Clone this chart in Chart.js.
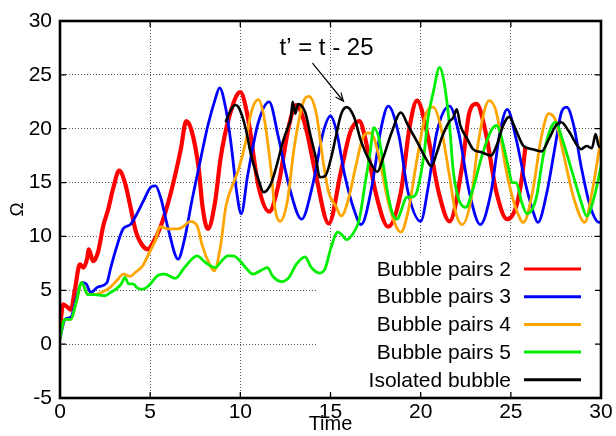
<!DOCTYPE html>
<html>
<head>
<meta charset="utf-8">
<script src="https://cdn.jsdelivr.net/npm/chart.js@4/dist/chart.umd.min.js"></script>
<style>
  html, body { margin: 0; padding: 0; background: #fff; }
  #wrap { width: 616px; height: 436px; }
</style>
</head>
<body>
<div id="wrap"><canvas id="c" width="616" height="436"></canvas></div>
<script>
// ---------------- data ----------------
const seriesLabels = ["Bubble pairs 2", "Bubble pairs 3", "Bubble pairs 4", "Bubble pairs 5", "Isolated bubble"];
const xTicks = [0, 5, 10, 15, 20, 25, 30];
const yTicks = [-5, 0, 5, 10, 15, 20, 25, 30];

const tPairs2 = [0, 0.17, 0.44, 0.6, 0.83, 1.1, 1.3, 1.5, 1.6, 1.83, 2.1, 2.4, 2.67, 2.94, 3.28, 3.6, 3.9, 4.2, 4.6, 4.9, 5.05, 5.6, 6.2, 6.7, 7.0, 7.3, 7.7, 7.9, 8.2, 8.6, 8.9, 9.4, 10.0, 10.4, 11.0, 11.6, 12.1, 12.7, 13.1, 13.6, 14.2, 14.9, 15.6, 16.1, 16.6, 16.9, 17.5, 18.2, 18.9, 19.4, 19.8, 20.4, 21.0, 21.6, 22.3, 22.7, 23.1, 23.6, 24.2, 24.8, 25.3, 25.6, 25.8];
const vPairs2 = [1.5, 3.7, 3.4, 3.2, 5.1, 7.4, 7.1, 7.9, 8.8, 7.7, 8.5, 11.0, 12.5, 14.4, 16.1, 15.0, 12.8, 10.5, 9.1, 8.8, 9.1, 11.0, 14.4, 18.1, 20.7, 19.8, 16.2, 12.8, 10.7, 13.2, 17.2, 21.2, 23.4, 21.2, 14.7, 12.3, 14.7, 20.3, 22.2, 20.3, 15.6, 11.2, 16.2, 19.7, 20.7, 19.3, 14.1, 10.9, 14.1, 20.3, 22.6, 19.3, 14.1, 11.4, 16.5, 21.5, 22.3, 19.7, 14.1, 11.6, 12.8, 15.3, 18.2];

const tPairs3 = [0, 0.28, 0.6, 0.9, 1.2, 1.45, 1.7, 2.1, 2.6, 2.8, 3.1, 3.5, 3.9, 4.2, 4.6, 5.05, 5.3, 5.6, 6.0, 6.55, 6.9, 7.3, 7.8, 8.2, 8.6, 8.85, 9.2, 9.5, 9.8, 10.05, 10.4, 11.0, 11.6, 12.1, 12.7, 13.4, 14.0, 14.6, 15.0, 15.3, 15.8, 16.3, 16.7, 17.3, 17.8, 18.2, 18.8, 19.3, 20.0, 20.4, 20.9, 21.6, 22.1, 22.7, 23.3, 23.9, 24.4, 24.8, 25.3, 25.8, 26.2, 26.5, 27.0, 27.5, 27.8, 28.1, 28.5, 28.9, 29.4, 29.9, 30];
const vPairs3 = [0.5, 2.3, 2.5, 4.2, 5.7, 5.6, 4.8, 5.3, 5.7, 7.0, 8.8, 10.7, 11.1, 11.9, 13.2, 14.6, 14.7, 13.5, 10.7, 7.9, 9.7, 13.2, 17.2, 20.3, 22.7, 23.8, 21.8, 18.4, 14.1, 12.1, 15.6, 20.6, 22.5, 19.3, 14.7, 11.6, 14.7, 19.7, 21.2, 20.0, 15.6, 12.5, 11.1, 14.7, 20.0, 22.1, 19.3, 14.1, 11.4, 14.4, 19.7, 22.1, 19.7, 14.1, 11.1, 14.1, 19.7, 21.8, 19.0, 15.0, 12.5, 11.3, 14.1, 18.8, 21.5, 22.0, 20.2, 16.5, 12.8, 11.3, 11.3];

const tPairs4 = [0, 0.17, 0.33, 0.6, 0.9, 1.2, 1.55, 1.9, 2.3, 2.8, 3.2, 3.5, 3.9, 4.2, 4.6, 4.9, 5.3, 5.55, 6.0, 6.55, 6.9, 7.2, 7.6, 7.9, 8.3, 8.55, 8.9, 9.2, 9.7, 9.9, 10.3, 10.6, 11.0, 11.3, 11.7, 11.9, 12.2, 12.6, 13.0, 13.5, 13.8, 14.2, 14.6, 14.9, 15.3, 15.6, 16.0, 16.4, 16.8, 17.1, 17.4, 17.8, 18.2, 18.9, 19.3, 19.8, 20.3, 20.7, 21.1, 21.6, 21.9, 22.3, 22.8, 23.2, 23.8, 24.2, 24.7, 25.0, 25.3, 25.7, 26.2, 26.7, 27.1, 27.5, 27.9, 28.5, 29.1, 29.5, 29.9, 30];
const vPairs4 = [0.5, 2.0, 2.3, 2.3, 3.9, 5.7, 4.6, 4.6, 4.8, 5.3, 6.0, 6.5, 6.3, 6.7, 7.3, 8.3, 9.7, 10.9, 10.7, 10.7, 11.0, 11.4, 11.0, 9.1, 7.4, 6.8, 9.1, 12.8, 15.3, 16.2, 18.8, 21.5, 22.7, 21.2, 16.2, 12.8, 11.4, 13.2, 18.4, 22.5, 23.0, 21.5, 16.9, 14.1, 12.8, 11.9, 13.5, 16.5, 19.2, 19.6, 19.2, 16.5, 13.2, 10.4, 12.3, 17.2, 21.4, 22.0, 20.3, 15.6, 12.5, 11.1, 13.5, 18.8, 22.6, 21.5, 16.5, 14.2, 12.5, 11.3, 14.1, 19.3, 21.4, 20.7, 17.8, 13.5, 11.3, 14.1, 18.1, 19.3];

const tPairs5 = [0, 0.17, 0.33, 0.6, 0.9, 1.2, 1.55, 1.9, 2.5, 2.8, 3.1, 3.4, 3.6, 3.8, 4.05, 4.3, 4.6, 4.9, 5.45, 5.8, 6.4, 6.9, 7.6, 8.05, 8.6, 8.95, 9.3, 9.6, 10.05, 10.3, 10.7, 11.1, 11.5, 11.8, 12.3, 12.7, 13.1, 13.6, 13.9, 14.4, 14.7, 15.0, 15.4, 15.6, 15.9, 16.3, 16.6, 16.9, 17.2, 17.4, 17.7, 18.1, 18.4, 18.7, 18.9, 19.2, 19.6, 19.8, 20.2, 20.4, 20.7, 21.05, 21.3, 21.6, 21.8, 22.1, 22.5, 22.9, 23.4, 23.9, 24.2, 24.4, 24.8, 25.1, 25.3, 25.6, 25.9, 26.4, 26.8, 27.2, 27.5, 27.8, 28.4, 28.9, 29.2, 29.6, 30];
const vPairs5 = [0.5, 2.0, 2.3, 2.3, 3.9, 5.7, 4.6, 4.6, 4.5, 4.8, 5.1, 5.6, 6.2, 5.6, 5.6, 5.2, 5.1, 5.4, 6.4, 6.5, 6.1, 7.1, 8.2, 7.6, 7.1, 7.7, 8.2, 8.2, 7.6, 7.1, 6.5, 6.8, 7.1, 6.3, 5.8, 6.2, 7.4, 8.1, 7.2, 6.6, 7.0, 8.8, 10.4, 10.2, 9.7, 10.4, 11.6, 14.7, 17.8, 20.1, 19.0, 14.7, 12.3, 11.6, 12.3, 13.6, 13.7, 14.2, 17.8, 20.9, 23.4, 25.7, 24.3, 20.3, 16.2, 13.5, 12.7, 14.4, 17.5, 19.8, 20.3, 19.7, 16.9, 15.0, 15.0, 13.2, 12.1, 13.5, 17.5, 20.0, 20.6, 19.3, 16.0, 13.2, 11.9, 13.5, 16.5];

const tIsolated = [9.2, 9.5, 9.7, 9.9, 10.3, 10.6, 11.0, 11.3, 11.7, 12.0, 12.4, 12.7, 12.8, 12.9, 13.05, 13.2, 13.6, 13.9, 14.2, 14.4, 14.7, 15.05, 15.3, 15.6, 15.9, 16.3, 16.7, 17.2, 17.6, 17.9, 18.4, 18.9, 19.3, 19.8, 20.3, 20.6, 20.9, 21.2, 21.6, 21.8, 22.0, 22.2, 22.6, 22.9, 23.4, 23.9, 24.2, 24.6, 24.9, 25.3, 25.7, 26.2, 26.7, 27.1, 27.5, 27.8, 28.2, 28.7, 28.9, 29.2, 29.5, 29.7, 29.9, 30];
const vIsolated = [20.7, 21.8, 22.2, 22.0, 20.0, 17.5, 15.3, 14.1, 14.9, 16.5, 19.0, 20.4, 20.9, 22.5, 21.4, 22.3, 21.5, 19.3, 17.2, 15.5, 15.6, 17.4, 19.3, 21.4, 22.0, 21.1, 18.8, 16.9, 16.0, 17.2, 19.7, 21.5, 20.3, 18.8, 17.2, 16.5, 17.8, 19.3, 20.7, 21.0, 21.8, 20.3, 19.0, 18.1, 17.8, 17.5, 18.4, 20.4, 21.1, 19.8, 18.4, 18.1, 17.9, 19.0, 20.3, 20.6, 19.8, 18.4, 18.1, 18.4, 18.2, 19.5, 18.3, 18.4];

// annotation (in data units)
const noteText = "t\u2019 = t - 25";
const noteAt = { x: 14.78, y: 27.5 };
const arrowFrom = { x: 14.0, y: 26.1 };
const arrowTo = { x: 15.72, y: 22.55 };

// ---------------- chart ----------------
const FONT = "'Liberation Sans', Arial, Helvetica, sans-serif";
function pts(t, v) { return t.map((x, i) => ({ x: x, y: v[i] })); }

const colors = ["#ff0000", "#0000ff", "#ffa500", "#00ee00", "#000000"];
const widths = [4.2, 2.8, 2.8, 2.8, 2.6];
const allT = [tPairs2, tPairs3, tPairs4, tPairs5, tIsolated];
const allV = [vPairs2, vPairs3, vPairs4, vPairs5, vIsolated];

const datasets = seriesLabels.map((lab, i) => ({
  label: lab,
  data: pts(allT[i], allV[i]),
  borderColor: colors[i],
  backgroundColor: colors[i],
  borderWidth: widths[i],
  pointRadius: 0,
  fill: false,
  cubicInterpolationMode: 'monotone',
  order: 5 - i,
  borderJoinStyle: 'round',
  borderCapStyle: 'round'
}));

const keyBoxPlugin = {
  id: 'keyBox',
  beforeDatasetsDraw(chart) {
    const a = chart.chartArea, ctx = chart.ctx;
    ctx.save();
    ctx.fillStyle = '#fff';
    ctx.fillRect(a.right - 283, 253, 283, a.bottom - 253);
    ctx.restore();
  },
  afterDraw(chart) {
    const a = chart.chartArea, ctx = chart.ctx;
    const xs = chart.scales.x, ys = chart.scales.y;
    ctx.save();
    // legend (gnuplot style)
    ctx.font = "21px " + FONT;
    ctx.textAlign = 'right';
    ctx.textBaseline = 'middle';
    chart.data.datasets.forEach((ds, i) => {
      const y = 269 + i * 27.7;
      ctx.fillStyle = '#000';
      ctx.fillText(ds.label, a.right - 90, y + 1);
      ctx.strokeStyle = ds.borderColor;
      ctx.lineWidth = 3;
      ctx.beginPath();
      ctx.moveTo(a.right - 77, y);
      ctx.lineTo(a.right - 20, y);
      ctx.stroke();
    });
    // frame
    ctx.strokeStyle = '#000';
    ctx.lineWidth = 2.6;
    ctx.strokeRect(a.left, a.top, a.right - a.left, a.bottom - a.top);
    // inward tick marks
    ctx.lineWidth = 1.3;
    ctx.beginPath();
    yTicks.forEach(v => {
      const y = ys.getPixelForValue(v);
      ctx.moveTo(a.left, y); ctx.lineTo(a.left + 6, y);
      ctx.moveTo(a.right, y); ctx.lineTo(a.right - 6, y);
    });
    xTicks.forEach(v => {
      const x = xs.getPixelForValue(v);
      ctx.moveTo(x, a.bottom); ctx.lineTo(x, a.bottom - 6);
      ctx.moveTo(x, a.top); ctx.lineTo(x, a.top + 6);
    });
    ctx.stroke();
    // annotation text
    ctx.fillStyle = '#000';
    ctx.font = "24px " + FONT;
    ctx.textAlign = 'center';
    ctx.textBaseline = 'middle';
    ctx.fillText(noteText, xs.getPixelForValue(noteAt.x), ys.getPixelForValue(noteAt.y));
    // arrow
    const x0 = xs.getPixelForValue(arrowFrom.x), y0 = ys.getPixelForValue(arrowFrom.y);
    const x1 = xs.getPixelForValue(arrowTo.x), y1 = ys.getPixelForValue(arrowTo.y);
    ctx.lineWidth = 1.2;
    ctx.beginPath();
    ctx.moveTo(x0, y0); ctx.lineTo(x1, y1);
    const ang = Math.atan2(y1 - y0, x1 - x0);
    const L = 9, w = 0.4;
    ctx.moveTo(x1 - L * Math.cos(ang - w), y1 - L * Math.sin(ang - w));
    ctx.lineTo(x1, y1);
    ctx.lineTo(x1 - L * Math.cos(ang + w), y1 - L * Math.sin(ang + w));
    ctx.stroke();
    ctx.restore();
  }
};

new Chart(document.getElementById('c'), {
  type: 'line',
  data: { datasets: datasets },
  options: {
    responsive: false,
    animation: false,
    devicePixelRatio: 1,
    layout: { padding: { top: 21, right: 15, left: 0, bottom: 0 } },
    plugins: { legend: { display: false }, tooltip: { enabled: false } },
    scales: {
      x: {
        type: 'linear', min: 0, max: 30,
        afterBuildTicks: s => { s.ticks = xTicks.map(v => ({ value: v })); },
        afterFit: s => { s.height = 38; },
        ticks: { font: { size: 21, family: FONT }, color: '#000', padding: 2, maxRotation: 0 },
        grid: { color: 'rgba(0,0,0,0.65)', lineWidth: 1, drawTicks: false },
        border: { display: false, dash: [1, 2] },
        title: { display: true, text: 'Time', font: { size: 20, family: FONT }, color: '#000', padding: { top: 0, bottom: 0 } }
      },
      y: {
        type: 'linear', min: -5, max: 30,
        afterBuildTicks: s => { s.ticks = yTicks.map(v => ({ value: v })); },
        afterFit: s => { s.width = 60; },
        ticks: { font: { size: 21, family: FONT }, color: '#000', padding: 8 },
        grid: { color: 'rgba(0,0,0,0.65)', lineWidth: 1, drawTicks: false },
        border: { display: false, dash: [1, 2] },
        title: { display: true, text: '\u03A9', font: { size: 19, family: FONT }, color: '#000', padding: { top: 6, bottom: 0 } }
      }
    }
  },
  plugins: [keyBoxPlugin]
});
</script>
</body>
</html>
